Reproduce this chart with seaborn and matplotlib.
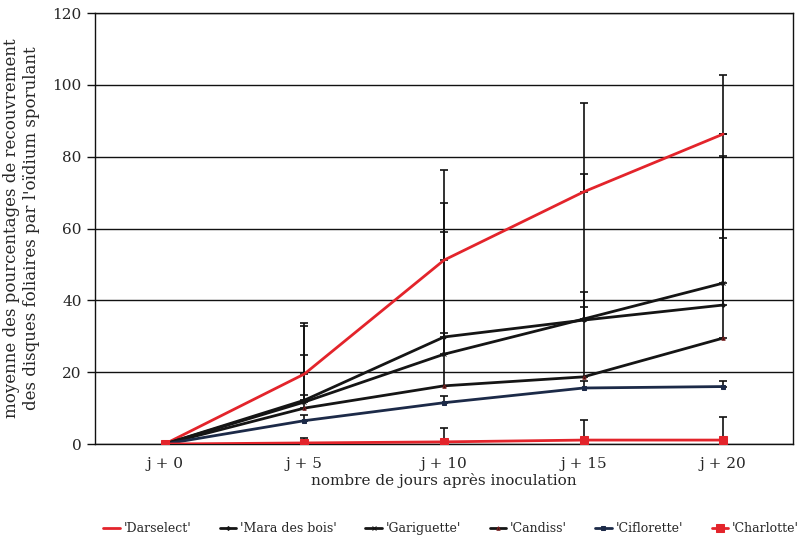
import pandas as pd
import numpy as np
import matplotlib.pyplot as plt
import seaborn as sns

# data
days = ["j + 0", "j + 5", "j + 10", "j + 15", "j + 20"]
varieties = ["'Darselect'", "'Mara des bois'", "'Gariguette'", "'Candiss'", "'Ciflorette'", "'Charlotte'"]

darselect = [0, 19.5, 51.2, 70.2, 86.3]
mara = [0, 12.2, 29.8, 34.5, 38.7]
gariguette = [0, 11.7, 25.0, 34.8, 44.8]
candiss = [0, 10.0, 16.2, 18.7, 29.5]
ciflorette = [0, 6.5, 11.5, 15.6, 16.0]
charlotte = [0, 0.3, 0.6, 1.1, 1.1]

err_darselect = [0, 14.2, 25.1, 24.8, 16.4]
err_mara = [0, 20.7, 37.2, 40.7, 41.5]
err_gariguette = [0, 13.1, 34.0, 7.5, 41.5]
err_candiss = [0, 3.6, 14.8, 19.4, 27.8]
err_ciflorette = [0, 1.5, 2.0, 2.0, 1.5]
err_charlotte = [0, 1.5, 3.8, 5.5, 6.4]

values = [darselect, mara, gariguette, candiss, ciflorette, charlotte]
errors = [err_darselect, err_mara, err_gariguette, err_candiss, err_ciflorette, err_charlotte]

df = pd.DataFrame({
    "jour": days * len(varieties),
    "variete": np.repeat(varieties, len(days)),
    "valeur": np.concatenate(values),
})

colors = ["#e3242b", "#151515", "#151515", "#151515", "#1c2a48", "#e3242b"]
markers = ["", "D", "x", "^", "s", "s"]
sizes = [0, 2, 3, 2.5, 2.5, 5.5]

sns.set_style("white")
plt.rcParams["font.family"] = ["DejaVu Serif"]

fig = plt.figure(figsize=(8.01, 5.36), dpi=100)
ax = fig.add_axes([0.1186, 0.1716, 0.8714, 0.8041])

# upper error bars first, under the lines
for i, name in enumerate(varieties):
    ax.errorbar(days, values[i], yerr=[np.zeros(len(days)), errors[i]], fmt="none",
                ecolor="#111111", elinewidth=1.2, capsize=3, capthick=1.2, zorder=2)

for i, name in enumerate(varieties):
    sub = df[df["variete"] == name]
    sns.lineplot(data=sub, x="jour", y="valeur", color=colors[i], linewidth=2,
                 marker=markers[i] if markers[i] else None, markersize=sizes[i],
                 markeredgecolor=colors[i] if i != 3 else "#7a1a1a",
                 label=name, ax=ax, zorder=3, sort=False)

ax.set_xlim(-0.5, 4.5)
ax.set_ylim(0, 120)
ax.set_yticks(range(0, 121, 20))
ax.yaxis.grid(True, color="#111111", linewidth=1)
ax.xaxis.grid(False)
for s in ax.spines.values():
    s.set_color("#111111")
    s.set_linewidth(1)
ax.tick_params(axis="y", which="both", left=True, length=6, width=1, color="#111111", labelsize=11)
ax.tick_params(axis="x", bottom=False, labelsize=11, pad=6)
ax.set_xlabel("nombre de jours après inoculation", fontsize=11, labelpad=1)
ax.set_ylabel("moyenne des pourcentages de recouvrement\ndes disques foliaires par l'oïdium sporulant",
              fontsize=12, labelpad=9)

sns.move_legend(ax, "upper center", bbox_to_anchor=(0.51, -0.155), ncol=6, frameon=False,
                fontsize=9, handlelength=1.3, handletextpad=0.3, columnspacing=2.3, title=None)

plt.savefig("out.png", dpi=100)
